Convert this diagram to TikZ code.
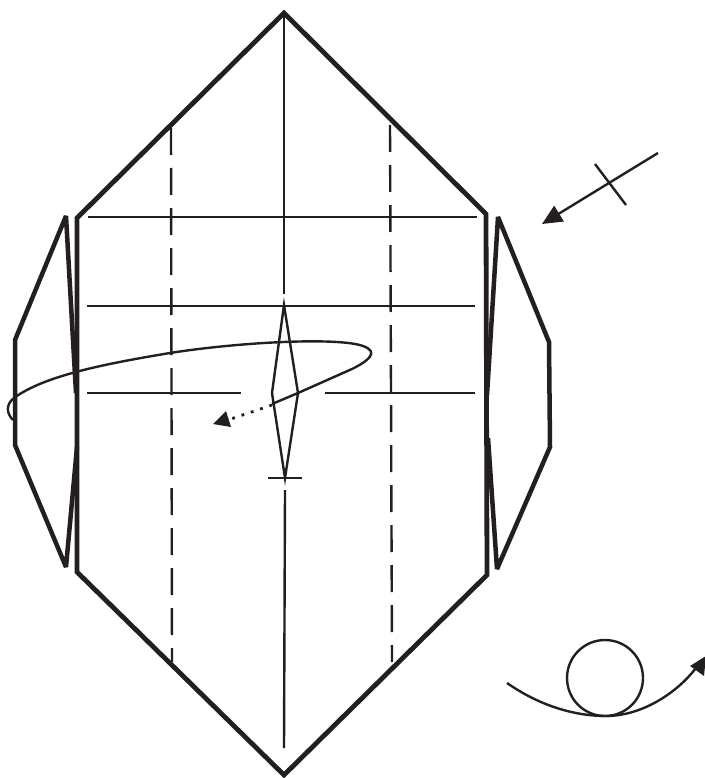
\documentclass[tikz,border=0pt]{standalone}
\usetikzlibrary{arrows.meta}
\definecolor{ink}{HTML}{231F20}
\tikzset{
  thick line/.style={draw=ink,line width=4.8pt,miter limit=10},
  flap line/.style={draw=ink,line width=4.5pt,miter limit=4},
  thin line/.style={draw=ink,line width=2.4pt},
  fold line/.style={draw=ink,line width=2.4pt,dash pattern=on 27pt off 13pt},
  solid tip/.style={-{Triangle[length=20pt,width=18pt]}}
}
\begin{document}
\begin{tikzpicture}[x=1pt,y=-1pt]
\useasboundingbox (0,0) rectangle (704,778);
% paper outline
\draw[thick line] (284,13) -- (486,214) -- (487,575) -- (284,775) -- (77,572) -- (77,218) -- cycle;
% left flap
\draw[flap line] (76,393) -- (66,216) -- (15,340) -- (15,445) -- (66,567) -- (77,447);
% right flap
\draw[flap line] (487,395) -- (498,217) -- (549,342) -- (550,447) -- (497,569) -- (488,438);
% creases
\draw[thin line] (88,217) -- (477,217);
\draw[thin line] (87,306) -- (475,306);
\draw[thin line] (87,393) -- (241,393);
\draw[thin line] (325,393) -- (475,393);
\draw[thin line] (284,13) -- (284,294);
\draw[thin line] (285,490) -- (284,748);
\draw[fold line] (171,128) -- (172,662);
\draw[fold line] (390,125) -- (392,662);
% centre rhombus
\draw[thin line,miter limit=20] (284,305) -- (298,393) -- (285,478) -- (272,393) -- cycle;
\draw[thin line] (268,478) -- (302,478);
% spiral movement arrow
\draw[thin line] (272,404) -- (298,393) -- (352,369)
  .. controls (368,361) and (380,352) .. (363,346)
  .. controls (338,337) and (240,342) .. (170,353)
  .. controls (110,363) and (45,375) .. (14,398)
  .. controls (5,405) and (7,414) .. (13,420);
\draw[draw=ink,line width=2.8pt,dash pattern=on 2.8pt off 7pt] (272,405) -- (228,420);
\fill[ink] (213,424) -- (226,411) -- (231,427) -- cycle;
% mountain-fold arrow, upper right
\coordinate (arrowstart) at (658,153);
\coordinate (arrowend) at (542,224);
\draw[thin line,solid tip] (arrowstart) -- (arrowend);
\draw[thin line] (595,164) -- (626,205);
% turn-over symbol
\node[draw=ink,line width=2.4pt,circle,minimum size=76pt,inner sep=0pt] (turn) at (605,678) {};
\draw[thin line] (507,683) .. controls (540,706) and (575,716) .. (606,716)
  .. controls (640,716) and (675,695) .. (696,668);
\fill[ink] (706,656) -- (690,666) -- (704,676) -- cycle;
\end{tikzpicture}
\end{document}
